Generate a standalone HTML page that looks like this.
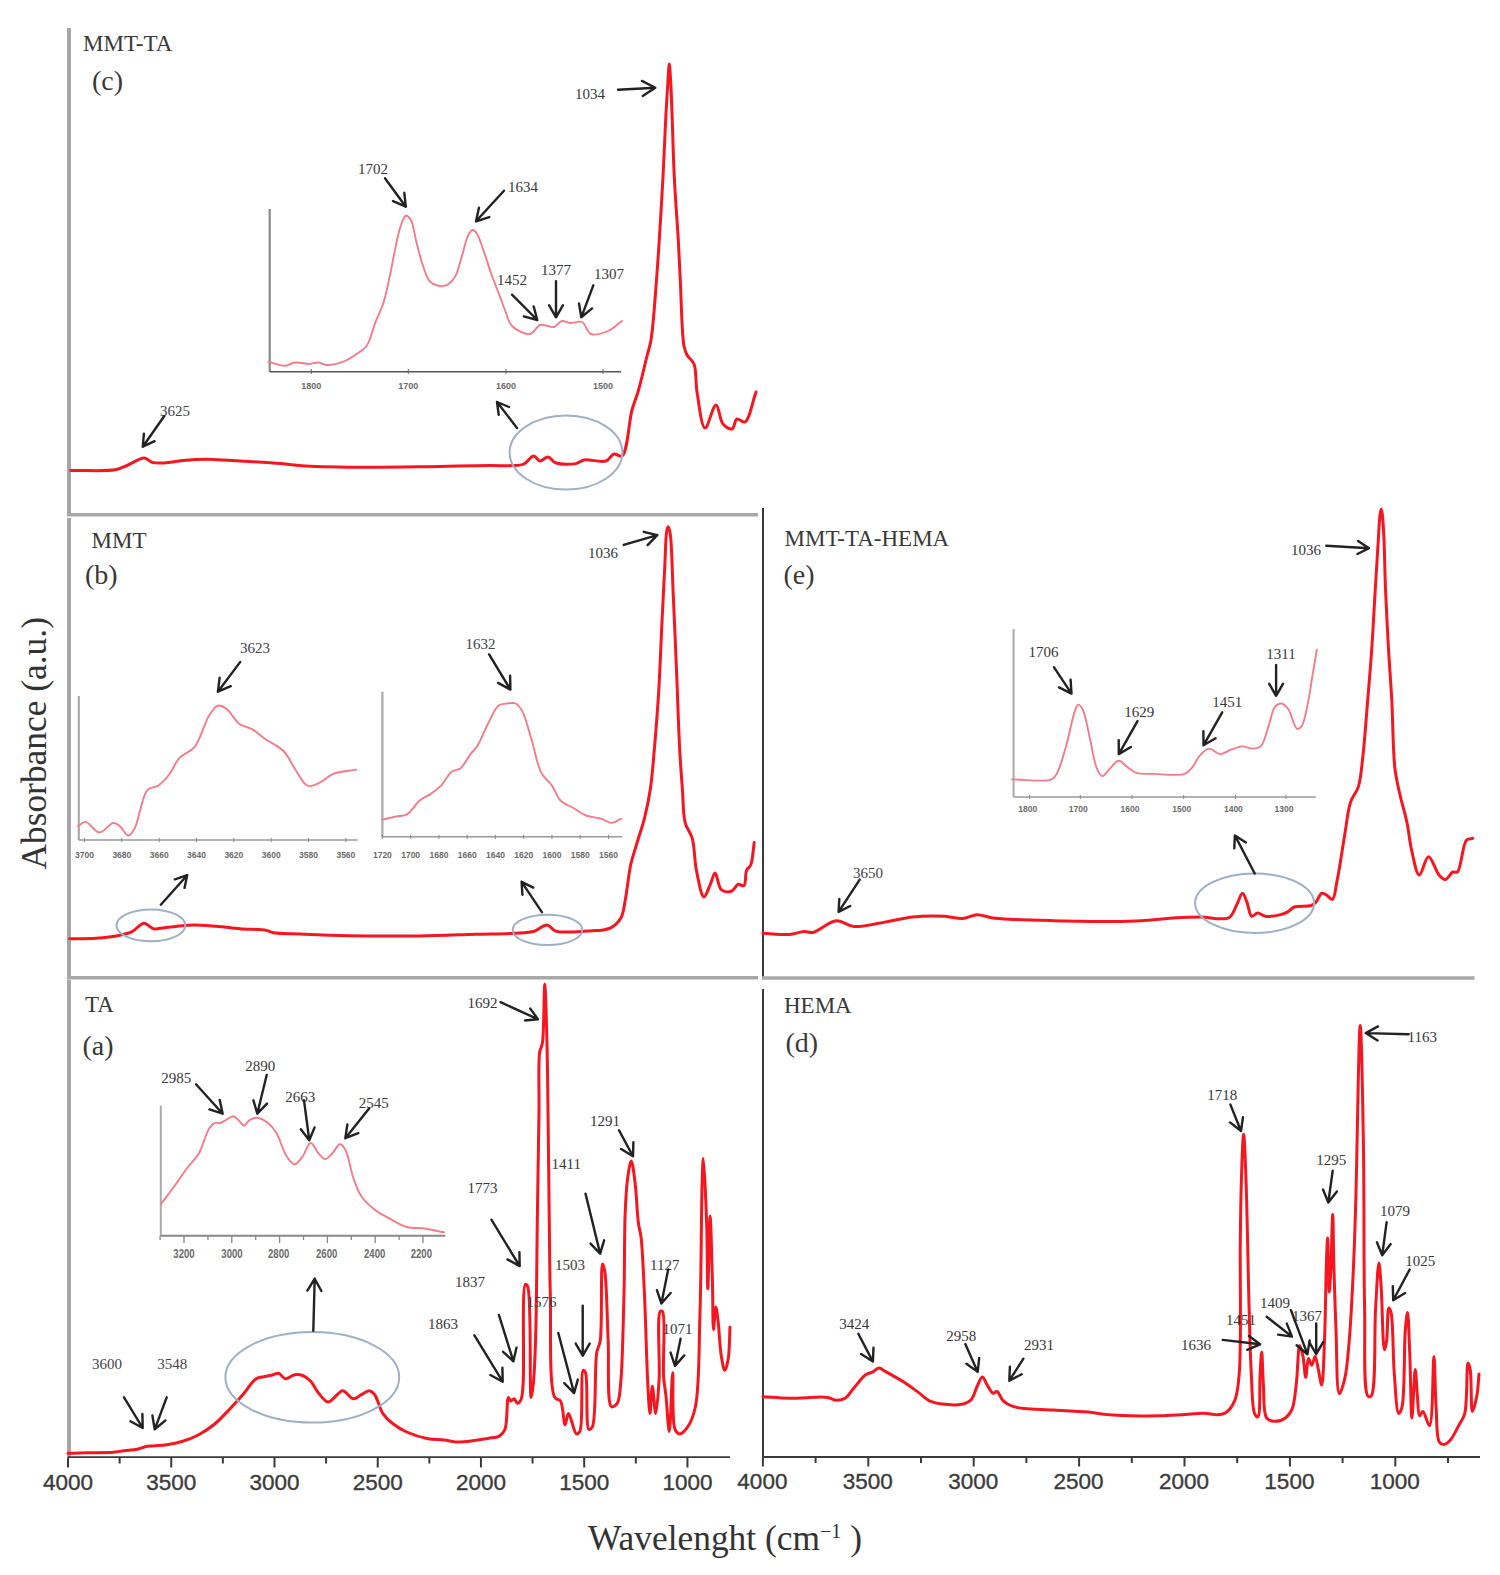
<!DOCTYPE html>
<html><head><meta charset="utf-8"><title>FTIR spectra</title>
<style>html,body{margin:0;padding:0;background:#fff;width:1500px;height:1575px;overflow:hidden}svg{display:block}</style>
</head><body>
<svg width="1500" height="1575" viewBox="0 0 1500 1575">
<rect width="1500" height="1575" fill="#fff"/>
<line x1="69" y1="28" x2="69" y2="516" stroke="#a6a6a6" stroke-width="4"/>
<line x1="67" y1="514.8" x2="758" y2="514.8" stroke="#a8a8a8" stroke-width="3.6"/>
<line x1="69" y1="518" x2="69" y2="979" stroke="#a6a6a6" stroke-width="4"/>
<line x1="67" y1="977.8" x2="758" y2="977.8" stroke="#a8a8a8" stroke-width="3.6"/>
<line x1="763" y1="508" x2="763" y2="978" stroke="#3a3a3a" stroke-width="2"/>
<line x1="762" y1="978" x2="1474.5" y2="978" stroke="#a8a8a8" stroke-width="3.6"/>
<line x1="69" y1="980" x2="69" y2="1457" stroke="#a6a6a6" stroke-width="4"/>
<line x1="763" y1="989" x2="763" y2="1457" stroke="#3a3a3a" stroke-width="2"/>
<text x="83" y="51" font-family="Liberation Serif" font-size="23" fill="#383838" text-anchor="start" >MMT-TA</text>
<text x="92" y="90" font-family="Liberation Serif" font-size="28" fill="#383838" text-anchor="start" >(c)</text>
<path d="M70.7,470.4 C85.5,470.2 105.5,471.5 115.2,469.8 C120.1,468.9 122.0,467.6 126.0,466.0 C131.4,463.9 139.7,457.7 144.4,458.0 C147.5,458.2 149.0,461.5 152.0,462.4 C155.5,463.4 159.8,463.2 164.3,463.0 C169.8,462.8 176.1,461.2 182.7,460.6 C190.3,459.9 199.0,459.3 207.2,459.3 C215.4,459.3 222.2,460.1 231.8,460.6 C245.4,461.4 267.4,462.5 280.9,463.6 C290.5,464.4 295.4,465.4 305.4,466.0 C321.2,466.9 346.3,467.2 366.7,467.3 C387.1,467.4 407.6,467.0 428.0,466.7 C448.5,466.4 473.9,465.6 489.4,465.5 C498.8,465.4 505.7,466.0 512.0,465.6 C516.6,465.3 520.4,465.6 524.0,464.0 C527.6,462.4 530.7,456.0 533.6,456.0 C535.9,456.0 537.7,460.8 540.0,461.0 C542.4,461.2 545.4,456.8 548.0,457.0 C550.7,457.2 552.5,461.8 556.0,463.0 C561.0,464.7 570.9,464.6 576.0,463.6 C579.4,462.9 580.6,460.7 584.0,460.0 C589.4,459.0 600.7,462.8 606.0,461.0 C609.7,459.7 611.1,454.7 614.0,454.0 C616.5,453.4 619.7,457.4 622.0,456.0 C627.5,452.6 628.8,421.7 632.0,410.0 C634.0,402.5 635.9,399.1 638.0,392.0 C640.9,382.1 644.6,365.6 647.0,356.0 C648.6,349.6 649.8,347.1 651.0,340.0 C653.3,326.4 654.7,302.7 656.5,280.0 C658.8,250.3 661.3,207.3 663.0,177.0 C664.3,153.1 665.0,130.8 666.0,113.0 C666.7,100.2 667.4,89.0 668.0,80.0 C668.4,73.7 668.9,64.0 669.3,64.0 C669.7,64.0 670.2,73.7 670.6,80.0 C671.2,89.0 671.5,100.2 672.0,113.0 C672.7,130.8 673.2,155.8 674.3,177.0 C675.3,198.1 677.2,221.4 678.3,240.0 C679.1,254.8 679.5,265.0 680.3,280.0 C681.3,299.3 681.7,334.2 684.0,346.0 C684.9,350.5 685.5,352.1 687.0,355.0 C688.7,358.2 692.3,359.9 694.0,364.0 C696.6,370.5 695.4,382.1 697.0,392.0 C698.9,403.3 701.4,427.6 705.0,428.0 C708.0,428.3 712.9,404.9 716.0,405.0 C718.8,405.1 719.6,420.0 723.0,424.0 C725.4,426.9 729.7,429.7 732.0,429.0 C734.4,428.3 734.6,419.9 737.0,419.0 C739.1,418.2 742.6,423.1 745.0,422.0 C749.6,419.9 752.3,402.0 756.0,392.0" fill="none" stroke="#f6161f" stroke-width="3.0" stroke-linejoin="round" stroke-linecap="round" opacity="1.0"/>
<ellipse cx="566" cy="452.6" rx="56.4" ry="37" fill="none" stroke="#9eb0c6" stroke-width="2"/>
<path d="M517.0,428.0 L497.0,402.0 M498.7,414.9 L497.0,402.0 L509.0,407.0" fill="none" stroke="#222" stroke-width="2.4" stroke-linecap="round" stroke-linejoin="round"/>
<text x="160" y="416" font-family="Liberation Serif" font-size="15" fill="#444" text-anchor="start" >3625</text>
<path d="M164.3,416.0 L142.8,446.7 M154.6,441.2 L142.8,446.7 L143.9,433.7" fill="none" stroke="#222" stroke-width="2.4" stroke-linecap="round" stroke-linejoin="round"/>
<text x="575" y="98.5" font-family="Liberation Serif" font-size="15" fill="#383838" text-anchor="start" >1034</text>
<path d="M618.0,89.7 L655.3,87.7 M641.9,80.9 L655.3,87.7 L642.7,95.9" fill="none" stroke="#222" stroke-width="2.4" stroke-linecap="round" stroke-linejoin="round"/>
<line x1="269.7" y1="209" x2="269.7" y2="372" stroke="#8a8a8a" stroke-width="2.2"/>
<line x1="269.7" y1="371.7" x2="621" y2="371.7" stroke="#555" stroke-width="1.6"/>
<line x1="311.3" y1="369" x2="311.3" y2="374" stroke="#666" stroke-width="1"/>
<text x="311.3" y="389" font-family="Liberation Sans" font-size="9" fill="#6a6a6a" text-anchor="middle" font-weight="bold">1800</text>
<line x1="408.3" y1="369" x2="408.3" y2="374" stroke="#666" stroke-width="1"/>
<text x="408.3" y="389" font-family="Liberation Sans" font-size="9" fill="#6a6a6a" text-anchor="middle" font-weight="bold">1700</text>
<line x1="506" y1="369" x2="506" y2="374" stroke="#666" stroke-width="1"/>
<text x="506" y="389" font-family="Liberation Sans" font-size="9" fill="#6a6a6a" text-anchor="middle" font-weight="bold">1600</text>
<line x1="603" y1="369" x2="603" y2="374" stroke="#666" stroke-width="1"/>
<text x="603" y="389" font-family="Liberation Sans" font-size="9" fill="#6a6a6a" text-anchor="middle" font-weight="bold">1500</text>
<path d="M268.3,361.7 C273.9,363.1 280.2,366.0 285.0,365.8 C288.8,365.7 291.3,362.9 295.0,362.5 C299.4,362.0 305.7,364.2 310.0,364.0 C313.2,363.9 315.5,362.3 318.3,362.5 C321.1,362.7 323.4,364.8 326.7,365.0 C331.3,365.2 338.4,363.5 343.3,361.7 C347.7,360.1 351.2,357.6 355.0,355.0 C359.0,352.3 363.6,350.1 366.7,345.8 C370.7,340.3 372.2,330.6 375.0,323.3 C377.7,316.4 381.1,310.1 383.3,303.3 C385.5,296.7 386.6,290.8 388.3,283.3 C390.5,273.6 392.9,259.9 395.0,250.0 C396.7,242.0 397.9,234.4 400.0,228.3 C401.7,223.5 403.6,216.3 405.8,215.8 C407.3,215.5 409.4,217.7 410.8,220.0 C413.6,224.4 414.6,235.5 416.7,243.3 C418.8,251.1 420.8,259.8 423.3,266.7 C425.3,272.3 426.9,278.5 430.0,281.7 C432.3,284.1 435.4,285.3 438.3,285.8 C441.0,286.3 444.1,286.2 446.7,285.0 C449.8,283.6 452.7,280.4 455.0,276.7 C458.1,271.7 459.5,263.5 461.7,256.7 C464.0,249.6 465.8,239.5 468.3,235.0 C469.6,232.6 471.0,230.2 472.5,230.0 C473.8,229.9 475.4,231.5 476.7,233.3 C479.1,236.6 481.1,243.8 483.3,250.0 C486.0,257.5 488.8,267.0 491.7,275.0 C494.4,282.5 497.6,290.3 500.0,296.7 C501.9,301.7 503.1,305.4 505.0,310.0 C507.1,315.1 508.1,322.0 512.0,326.0 C516.2,330.2 525.1,334.8 530.0,334.0 C534.1,333.4 536.6,326.1 540.0,325.0 C542.6,324.2 545.5,325.6 548.0,326.0 C550.1,326.3 552.0,327.5 554.0,327.0 C556.6,326.4 559.2,321.6 562.0,321.0 C564.6,320.5 567.0,322.8 570.0,323.0 C573.6,323.3 578.6,320.5 582.0,322.0 C585.8,323.7 586.9,332.4 591.0,334.0 C595.4,335.7 602.8,333.2 608.0,331.0 C613.2,328.8 617.3,324.3 622.0,321.0" fill="none" stroke="#f37c88" stroke-width="1.9" stroke-linejoin="round" stroke-linecap="round" opacity="1.0"/>
<text x="358" y="174" font-family="Liberation Serif" font-size="15" fill="#383838" text-anchor="start" >1702</text>
<path d="M385.0,178.3 L405.8,206.7 M404.3,192.8 L405.8,206.7 L393.0,201.1" fill="none" stroke="#222" stroke-width="2.4" stroke-linecap="round" stroke-linejoin="round"/>
<text x="508" y="192" font-family="Liberation Serif" font-size="15" fill="#383838" text-anchor="start" >1634</text>
<path d="M504.0,190.7 L476.0,221.3 M489.3,217.1 L476.0,221.3 L479.0,207.6" fill="none" stroke="#222" stroke-width="2.4" stroke-linecap="round" stroke-linejoin="round"/>
<text x="497" y="285" font-family="Liberation Serif" font-size="15" fill="#383838" text-anchor="start" >1452</text>
<path d="M512.0,294.7 L537.3,320.0 M533.7,306.5 L537.3,320.0 L523.8,316.4" fill="none" stroke="#222" stroke-width="2.4" stroke-linecap="round" stroke-linejoin="round"/>
<text x="541" y="274.5" font-family="Liberation Serif" font-size="15" fill="#383838" text-anchor="start" >1377</text>
<path d="M556.0,281.3 L556.0,317.3 M563.0,305.2 L556.0,317.3 L549.0,305.2" fill="none" stroke="#222" stroke-width="2.4" stroke-linecap="round" stroke-linejoin="round"/>
<text x="594" y="278.5" font-family="Liberation Serif" font-size="15" fill="#383838" text-anchor="start" >1307</text>
<path d="M593.3,285.3 L581.3,317.3 M592.1,308.4 L581.3,317.3 L579.0,303.5" fill="none" stroke="#222" stroke-width="2.4" stroke-linecap="round" stroke-linejoin="round"/>
<text x="91.5" y="547.5" font-family="Liberation Serif" font-size="23" fill="#383838" text-anchor="start" >MMT</text>
<text x="85" y="584.2" font-family="Liberation Serif" font-size="28" fill="#383838" text-anchor="start" >(b)</text>
<path d="M69.6,938.8 C78.4,938.6 87.4,938.9 96.0,938.3 C104.2,937.7 113.4,936.6 120.0,935.2 C124.7,934.2 128.1,933.5 132.0,931.6 C136.2,929.6 140.2,923.4 144.0,923.2 C147.3,923.0 149.9,927.9 153.6,928.7 C157.8,929.6 163.0,927.8 168.0,927.3 C173.4,926.8 180.0,926.0 184.8,925.6 C188.4,925.3 190.6,924.9 194.4,924.9 C200.2,924.9 208.6,925.7 216.0,926.3 C223.8,926.9 231.8,928.0 240.0,928.7 C248.6,929.4 260.4,929.2 266.4,930.4 C269.6,931.0 270.4,932.2 273.6,932.8 C279.6,933.9 289.9,933.6 300.0,934.0 C313.6,934.6 330.4,935.4 348.0,935.7 C369.6,936.1 397.5,936.2 420.0,935.9 C439.8,935.6 459.1,934.7 476.0,934.2 C489.9,933.8 503.3,933.9 514.0,933.2 C521.8,932.7 528.5,932.9 534.3,931.2 C539.2,929.8 543.2,924.6 547.0,924.9 C550.3,925.2 552.0,929.9 555.8,931.2 C561.2,933.0 570.7,931.8 577.3,931.7 C582.8,931.6 588.4,930.9 592.6,930.7 C595.5,930.5 597.3,930.8 600.0,930.4 C603.4,929.9 607.8,929.5 611.2,927.6 C614.9,925.5 618.7,921.9 621.0,917.8 C623.6,913.2 623.8,907.7 625.1,901.0 C627.0,891.2 628.5,874.9 630.7,864.7 C632.4,857.1 634.2,852.3 636.3,845.2 C638.8,836.7 642.4,826.7 644.7,817.3 C647.0,808.0 648.8,799.6 650.3,789.3 C652.2,776.8 653.2,762.4 654.5,747.4 C656.0,730.1 657.5,711.3 658.7,691.6 C660.0,669.6 660.9,643.7 662.0,621.7 C663.0,602.1 663.9,582.5 664.8,565.9 C665.5,552.5 665.6,534.8 667.0,529.6 C667.4,528.1 668.0,526.7 668.4,526.8 C669.1,526.9 669.8,531.0 670.4,535.1 C671.9,545.8 672.2,572.5 673.2,593.8 C674.4,619.3 675.7,650.9 676.8,677.6 C677.8,701.9 678.5,727.1 679.6,747.4 C680.4,763.1 681.4,776.1 682.4,789.3 C683.3,801.1 682.9,813.9 685.2,822.8 C686.8,829.1 690.4,832.0 692.2,838.2 C694.7,846.8 694.3,860.2 696.4,870.3 C698.3,879.7 701.1,896.6 703.9,896.9 C705.9,897.1 708.4,888.4 710.3,884.3 C712.1,880.5 713.4,873.1 715.1,873.1 C717.1,873.1 718.1,887.2 721.5,889.9 C724.0,891.9 728.5,892.2 731.3,891.3 C734.1,890.4 735.9,885.0 738.3,884.3 C740.1,883.8 742.5,886.6 743.9,885.7 C746.2,884.2 745.0,874.0 746.6,870.3 C747.7,867.8 749.7,867.4 750.8,864.7 C752.8,859.9 753.1,849.8 754.2,842.4" fill="none" stroke="#f6161f" stroke-width="3.0" stroke-linejoin="round" stroke-linecap="round" opacity="1.0"/>
<ellipse cx="150.9" cy="925.4" rx="34.4" ry="15.9" fill="none" stroke="#9eb0c6" stroke-width="2"/>
<path d="M160.8,904.7 L187.2,875.2 M174.8,879.3 L187.2,875.2 L184.5,887.9" fill="none" stroke="#222" stroke-width="2.4" stroke-linecap="round" stroke-linejoin="round"/>
<ellipse cx="547.5" cy="929.9" rx="34.8" ry="15.2" fill="none" stroke="#9eb0c6" stroke-width="2"/>
<path d="M541.9,912.2 L521.6,881.8 M522.4,894.8 L521.6,881.8 L533.3,887.6" fill="none" stroke="#222" stroke-width="2.4" stroke-linecap="round" stroke-linejoin="round"/>
<text x="588" y="557.5" font-family="Liberation Serif" font-size="15" fill="#383838" text-anchor="start" >1036</text>
<path d="M623.7,544.9 L657.3,535.1 M643.7,531.8 L657.3,535.1 L647.6,545.2" fill="none" stroke="#222" stroke-width="2.4" stroke-linecap="round" stroke-linejoin="round"/>
<line x1="78.8" y1="696" x2="78.8" y2="840" stroke="#aaa" stroke-width="2.2"/>
<line x1="78.8" y1="840" x2="357.6" y2="840" stroke="#999" stroke-width="1.4"/>
<line x1="84.5" y1="838" x2="84.5" y2="842" stroke="#888" stroke-width="1"/>
<text x="84.5" y="858" font-family="Liberation Sans" font-size="8.5" fill="#6a6a6a" text-anchor="middle" font-weight="bold">3700</text>
<line x1="121.84" y1="838" x2="121.84" y2="842" stroke="#888" stroke-width="1"/>
<text x="121.84" y="858" font-family="Liberation Sans" font-size="8.5" fill="#6a6a6a" text-anchor="middle" font-weight="bold">3680</text>
<line x1="159.18" y1="838" x2="159.18" y2="842" stroke="#888" stroke-width="1"/>
<text x="159.18" y="858" font-family="Liberation Sans" font-size="8.5" fill="#6a6a6a" text-anchor="middle" font-weight="bold">3660</text>
<line x1="196.52" y1="838" x2="196.52" y2="842" stroke="#888" stroke-width="1"/>
<text x="196.52" y="858" font-family="Liberation Sans" font-size="8.5" fill="#6a6a6a" text-anchor="middle" font-weight="bold">3640</text>
<line x1="233.86" y1="838" x2="233.86" y2="842" stroke="#888" stroke-width="1"/>
<text x="233.86" y="858" font-family="Liberation Sans" font-size="8.5" fill="#6a6a6a" text-anchor="middle" font-weight="bold">3620</text>
<line x1="271.20000000000005" y1="838" x2="271.20000000000005" y2="842" stroke="#888" stroke-width="1"/>
<text x="271.20000000000005" y="858" font-family="Liberation Sans" font-size="8.5" fill="#6a6a6a" text-anchor="middle" font-weight="bold">3600</text>
<line x1="308.54" y1="838" x2="308.54" y2="842" stroke="#888" stroke-width="1"/>
<text x="308.54" y="858" font-family="Liberation Sans" font-size="8.5" fill="#6a6a6a" text-anchor="middle" font-weight="bold">3580</text>
<line x1="345.88" y1="838" x2="345.88" y2="842" stroke="#888" stroke-width="1"/>
<text x="345.88" y="858" font-family="Liberation Sans" font-size="8.5" fill="#6a6a6a" text-anchor="middle" font-weight="bold">3560</text>
<path d="M78.1,826.1 C80.6,824.7 82.8,821.7 85.6,821.9 C89.6,822.2 94.8,832.4 99.5,832.5 C104.1,832.6 109.5,823.3 113.3,823.0 C115.8,822.8 117.6,824.5 119.7,826.1 C122.6,828.3 125.7,835.7 128.3,835.7 C130.6,835.7 132.6,832.0 134.7,828.3 C139.0,820.7 141.7,796.1 147.5,789.9 C150.6,786.6 154.8,787.8 158.1,785.6 C161.9,783.1 165.5,779.2 168.8,775.0 C172.7,770.2 175.1,762.6 179.5,757.9 C183.7,753.4 190.0,752.5 194.4,747.2 C200.5,739.9 204.5,722.5 209.3,715.2 C212.2,710.8 214.8,706.4 217.9,705.6 C220.5,705.0 223.5,706.8 226.4,708.8 C230.6,711.7 234.5,720.3 239.2,723.7 C243.2,726.6 247.9,726.7 252.0,729.1 C256.4,731.6 260.1,735.3 264.8,738.7 C270.5,742.7 278.9,746.3 284.0,751.5 C288.7,756.4 290.9,762.9 294.7,768.5 C298.7,774.3 302.6,783.9 307.5,785.6 C311.4,787.0 316.2,784.2 320.3,782.4 C324.7,780.4 327.9,776.0 333.1,773.9 C339.5,771.3 348.7,771.0 356.5,769.6" fill="none" stroke="#f37c88" stroke-width="1.9" stroke-linejoin="round" stroke-linecap="round" opacity="1.0"/>
<text x="240" y="653" font-family="Liberation Serif" font-size="15" fill="#444" text-anchor="start" >3623</text>
<path d="M240.3,661.9 L217.9,691.7 M230.8,686.2 L217.9,691.7 L219.6,677.8" fill="none" stroke="#222" stroke-width="2.4" stroke-linecap="round" stroke-linejoin="round"/>
<line x1="382.4" y1="691.7" x2="382.4" y2="837" stroke="#aaa" stroke-width="2.2"/>
<line x1="382.4" y1="836.8" x2="622.4" y2="836.8" stroke="#999" stroke-width="1.4"/>
<line x1="382.4" y1="835" x2="382.4" y2="839" stroke="#888" stroke-width="1"/>
<text x="382.4" y="858" font-family="Liberation Sans" font-size="8.5" fill="#6a6a6a" text-anchor="middle" font-weight="bold">1720</text>
<line x1="410.65999999999997" y1="835" x2="410.65999999999997" y2="839" stroke="#888" stroke-width="1"/>
<text x="410.65999999999997" y="858" font-family="Liberation Sans" font-size="8.5" fill="#6a6a6a" text-anchor="middle" font-weight="bold">1700</text>
<line x1="438.91999999999996" y1="835" x2="438.91999999999996" y2="839" stroke="#888" stroke-width="1"/>
<text x="438.91999999999996" y="858" font-family="Liberation Sans" font-size="8.5" fill="#6a6a6a" text-anchor="middle" font-weight="bold">1680</text>
<line x1="467.17999999999995" y1="835" x2="467.17999999999995" y2="839" stroke="#888" stroke-width="1"/>
<text x="467.17999999999995" y="858" font-family="Liberation Sans" font-size="8.5" fill="#6a6a6a" text-anchor="middle" font-weight="bold">1660</text>
<line x1="495.44" y1="835" x2="495.44" y2="839" stroke="#888" stroke-width="1"/>
<text x="495.44" y="858" font-family="Liberation Sans" font-size="8.5" fill="#6a6a6a" text-anchor="middle" font-weight="bold">1640</text>
<line x1="523.7" y1="835" x2="523.7" y2="839" stroke="#888" stroke-width="1"/>
<text x="523.7" y="858" font-family="Liberation Sans" font-size="8.5" fill="#6a6a6a" text-anchor="middle" font-weight="bold">1620</text>
<line x1="551.96" y1="835" x2="551.96" y2="839" stroke="#888" stroke-width="1"/>
<text x="551.96" y="858" font-family="Liberation Sans" font-size="8.5" fill="#6a6a6a" text-anchor="middle" font-weight="bold">1600</text>
<line x1="580.22" y1="835" x2="580.22" y2="839" stroke="#888" stroke-width="1"/>
<text x="580.22" y="858" font-family="Liberation Sans" font-size="8.5" fill="#6a6a6a" text-anchor="middle" font-weight="bold">1580</text>
<line x1="608.48" y1="835" x2="608.48" y2="839" stroke="#888" stroke-width="1"/>
<text x="608.48" y="858" font-family="Liberation Sans" font-size="8.5" fill="#6a6a6a" text-anchor="middle" font-weight="bold">1560</text>
<path d="M382.4,819.7 C387.0,818.6 392.0,817.4 396.3,816.5 C400.1,815.7 403.6,816.3 407.0,814.4 C411.5,811.9 415.4,804.0 419.7,800.5 C423.2,797.6 426.9,796.5 430.4,794.1 C434.1,791.6 437.7,789.0 441.1,785.6 C444.9,781.7 447.9,774.5 451.7,771.7 C454.4,769.7 457.6,770.6 460.3,768.5 C464.1,765.6 467.7,757.7 470.9,753.6 C473.2,750.6 475.1,749.5 477.3,746.1 C480.8,740.8 484.3,730.7 488.0,723.7 C491.4,717.3 494.6,708.6 498.7,705.6 C501.3,703.6 504.3,703.8 507.2,703.5 C510.0,703.2 513.3,702.4 515.7,703.5 C518.3,704.7 520.1,707.4 522.1,710.9 C525.4,716.7 527.8,727.2 530.7,736.5 C534.2,747.5 536.7,764.1 541.3,772.8 C544.4,778.6 548.8,781.0 552.0,785.6 C555.2,790.2 556.8,796.7 560.5,800.5 C564.0,804.0 569.0,805.5 573.3,808.0 C577.6,810.5 581.5,813.7 586.1,815.5 C590.8,817.3 596.6,817.3 601.1,818.7 C605.0,819.9 608.3,823.0 611.7,822.9 C615.0,822.8 618.1,820.1 621.3,818.7" fill="none" stroke="#f37c88" stroke-width="1.9" stroke-linejoin="round" stroke-linecap="round" opacity="1.0"/>
<text x="465.6" y="649" font-family="Liberation Serif" font-size="15" fill="#444" text-anchor="start" >1632</text>
<path d="M489.1,654.4 L510.4,689.6 M510.1,675.6 L510.4,689.6 L498.1,682.9" fill="none" stroke="#222" stroke-width="2.4" stroke-linecap="round" stroke-linejoin="round"/>
<text x="784.5" y="545.5" font-family="Liberation Serif" font-size="23" fill="#383838" text-anchor="start" >MMT-TA-HEMA</text>
<text x="783.5" y="583.8" font-family="Liberation Serif" font-size="28" fill="#383838" text-anchor="start" >(e)</text>
<path d="M762.9,933.3 C771.7,933.7 781.8,935.1 789.3,934.5 C794.9,934.1 799.7,931.7 804.0,931.5 C807.3,931.3 809.3,933.0 812.8,932.4 C818.9,931.3 828.9,921.2 836.3,920.7 C842.5,920.3 847.5,925.9 853.9,926.5 C861.1,927.2 870.4,924.7 877.3,923.6 C882.8,922.7 886.7,921.7 892.0,920.7 C898.3,919.5 904.9,917.7 912.5,916.9 C922.0,915.9 935.7,915.8 944.8,916.3 C951.6,916.7 956.8,918.9 962.4,918.6 C967.6,918.3 972.2,914.9 977.1,914.8 C982.0,914.7 986.6,917.0 991.7,917.7 C997.3,918.5 1002.1,918.8 1009.3,919.2 C1020.7,919.9 1037.6,920.3 1053.3,920.7 C1071.5,921.1 1095.8,921.6 1112.0,921.5 C1123.4,921.4 1131.1,921.3 1141.3,920.7 C1152.5,920.1 1165.9,918.3 1176.5,917.7 C1185.1,917.2 1191.8,917.0 1200.0,917.0 C1209.1,917.0 1222.7,921.0 1228.8,917.7 C1233.1,915.4 1234.1,909.6 1236.4,905.5 C1238.6,901.5 1240.6,893.3 1242.5,893.3 C1244.1,893.3 1245.6,899.0 1247.0,902.4 C1248.7,906.5 1249.2,915.2 1251.6,916.2 C1253.2,916.9 1255.5,913.2 1257.7,913.1 C1260.1,913.0 1262.3,915.8 1265.4,916.2 C1269.6,916.8 1276.5,915.6 1280.6,914.6 C1283.6,913.9 1285.9,912.9 1288.2,911.6 C1290.4,910.3 1291.6,908.1 1294.3,907.0 C1298.4,905.4 1307.4,906.8 1311.1,905.5 C1313.2,904.7 1314.2,903.9 1315.7,902.4 C1317.8,900.3 1319.6,894.0 1321.8,893.3 C1323.2,892.8 1324.8,894.0 1326.3,894.8 C1328.3,895.8 1330.8,900.0 1332.4,899.4 C1334.9,898.5 1335.4,888.6 1337.0,881.1 C1339.5,869.3 1342.2,849.5 1344.6,835.4 C1346.7,823.3 1347.7,810.6 1350.7,801.8 C1352.8,795.6 1356.5,792.7 1358.4,786.6 C1361.0,778.4 1361.5,767.8 1362.9,756.1 C1364.7,740.3 1366.2,717.9 1367.7,700.0 C1369.1,683.5 1370.3,669.4 1371.5,652.4 C1372.9,632.8 1374.1,608.7 1375.3,588.9 C1376.4,571.5 1377.4,553.6 1378.3,540.0 C1378.9,530.3 1379.3,520.5 1380.0,515.0 C1380.4,512.3 1380.8,509.0 1381.2,509.0 C1381.6,509.0 1382.0,512.3 1382.4,515.0 C1383.1,520.5 1383.5,530.3 1384.0,540.0 C1384.6,553.6 1384.8,571.5 1385.5,588.9 C1386.3,608.7 1387.6,632.8 1388.7,652.4 C1389.7,669.4 1390.8,682.7 1391.8,700.0 C1392.9,720.7 1392.9,751.3 1394.9,768.3 C1396.1,778.5 1397.6,784.1 1399.5,792.7 C1401.6,802.3 1405.0,813.3 1407.1,823.2 C1409.0,832.5 1409.6,841.8 1411.7,850.6 C1413.7,859.0 1416.3,874.8 1419.3,875.0 C1422.0,875.2 1425.2,856.8 1428.5,856.7 C1431.8,856.6 1435.5,871.1 1439.0,875.0 C1441.1,877.4 1443.2,879.8 1445.3,879.6 C1447.8,879.4 1450.5,873.0 1452.9,872.0 C1454.5,871.4 1456.0,873.1 1457.4,872.0 C1461.2,869.1 1462.4,844.1 1466.6,840.0 C1468.4,838.2 1470.7,838.9 1472.7,838.4" fill="none" stroke="#f6161f" stroke-width="3.0" stroke-linejoin="round" stroke-linecap="round" opacity="1.0"/>
<ellipse cx="1254.6" cy="903.2" rx="59.5" ry="29.7" fill="none" stroke="#9eb0c6" stroke-width="2"/>
<path d="M1254.7,873.5 L1234.9,835.4 M1234.3,848.4 L1234.9,835.4 L1245.9,842.4" fill="none" stroke="#222" stroke-width="2.4" stroke-linecap="round" stroke-linejoin="round"/>
<text x="1291" y="555" font-family="Liberation Serif" font-size="15" fill="#383838" text-anchor="start" >1036</text>
<path d="M1326.3,545.7 L1369.0,548.2 M1358.1,541.1 L1369.0,548.2 L1357.4,554.0" fill="none" stroke="#222" stroke-width="2.4" stroke-linecap="round" stroke-linejoin="round"/>
<text x="853" y="878" font-family="Liberation Serif" font-size="15" fill="#444" text-anchor="start" >3650</text>
<path d="M859.7,879.6 L838.6,911.9 M850.2,906.0 L838.6,911.9 L839.3,898.9" fill="none" stroke="#222" stroke-width="2.4" stroke-linecap="round" stroke-linejoin="round"/>
<line x1="1013.6" y1="629" x2="1013.6" y2="797" stroke="#aaa" stroke-width="2"/>
<line x1="1013.6" y1="797" x2="1315.7" y2="797" stroke="#999" stroke-width="1.4"/>
<line x1="1029.7" y1="795" x2="1029.7" y2="799" stroke="#888" stroke-width="1"/>
<text x="1027.7" y="812" font-family="Liberation Sans" font-size="8.5" fill="#6a6a6a" text-anchor="middle" font-weight="bold">1800</text>
<line x1="1080.3" y1="795" x2="1080.3" y2="799" stroke="#888" stroke-width="1"/>
<text x="1078.3" y="812" font-family="Liberation Sans" font-size="8.5" fill="#6a6a6a" text-anchor="middle" font-weight="bold">1700</text>
<line x1="1132" y1="795" x2="1132" y2="799" stroke="#888" stroke-width="1"/>
<text x="1130" y="812" font-family="Liberation Sans" font-size="8.5" fill="#6a6a6a" text-anchor="middle" font-weight="bold">1600</text>
<line x1="1183.7" y1="795" x2="1183.7" y2="799" stroke="#888" stroke-width="1"/>
<text x="1181.7" y="812" font-family="Liberation Sans" font-size="8.5" fill="#6a6a6a" text-anchor="middle" font-weight="bold">1500</text>
<line x1="1235.4" y1="795" x2="1235.4" y2="799" stroke="#888" stroke-width="1"/>
<text x="1233.4" y="812" font-family="Liberation Sans" font-size="8.5" fill="#6a6a6a" text-anchor="middle" font-weight="bold">1400</text>
<line x1="1286" y1="795" x2="1286" y2="799" stroke="#888" stroke-width="1"/>
<text x="1284" y="812" font-family="Liberation Sans" font-size="8.5" fill="#6a6a6a" text-anchor="middle" font-weight="bold">1300</text>
<path d="M1012.1,779.4 C1025.3,779.4 1044.8,782.6 1051.7,779.4 C1054.9,777.9 1055.4,776.0 1057.2,772.8 C1060.4,767.1 1063.2,755.9 1066.0,746.4 C1069.2,735.6 1072.2,718.2 1074.8,711.2 C1076.0,708.0 1076.7,704.8 1078.1,704.6 C1079.3,704.4 1081.1,706.6 1082.5,709.0 C1085.6,714.4 1087.8,729.7 1090.2,739.8 C1092.5,749.5 1093.9,762.1 1096.8,768.4 C1098.4,772.0 1100.2,775.9 1102.3,776.1 C1104.6,776.3 1107.3,770.9 1110.0,768.4 C1112.8,765.8 1115.8,760.8 1118.8,760.7 C1121.7,760.6 1124.6,765.3 1127.6,767.3 C1130.5,769.3 1132.8,771.6 1136.4,772.8 C1141.1,774.3 1147.3,773.7 1154.0,773.9 C1162.8,774.2 1178.5,776.2 1184.8,773.9 C1188.1,772.7 1189.2,770.8 1191.4,768.4 C1194.4,765.1 1196.9,758.6 1200.2,755.2 C1202.9,752.3 1205.8,748.9 1209.0,748.6 C1212.4,748.3 1216.3,753.9 1220.0,754.1 C1223.6,754.3 1227.3,751.0 1231.0,749.7 C1234.6,748.4 1238.3,746.6 1242.0,746.4 C1245.6,746.2 1249.7,748.7 1253.0,748.6 C1255.8,748.5 1258.5,748.4 1260.7,746.4 C1264.3,743.1 1266.0,733.2 1268.4,726.6 C1270.8,720.0 1271.9,710.4 1275.0,706.8 C1276.9,704.6 1279.5,703.3 1281.6,703.5 C1283.9,703.8 1286.1,706.3 1288.2,709.0 C1291.5,713.3 1294.0,727.7 1297.0,728.8 C1298.4,729.3 1300.1,728.2 1301.4,726.6 C1304.4,723.0 1306.2,710.7 1308.0,702.4 C1309.9,693.8 1310.9,684.8 1312.4,676.0 C1313.9,667.2 1315.3,658.4 1316.8,649.6" fill="none" stroke="#f37c88" stroke-width="1.9" stroke-linejoin="round" stroke-linecap="round" opacity="1.0"/>
<text x="1028.6" y="657" font-family="Liberation Serif" font-size="15" fill="#383838" text-anchor="start" >1706</text>
<path d="M1053.9,667.2 L1071.5,693.6 M1070.6,679.6 L1071.5,693.6 L1059.0,687.4" fill="none" stroke="#222" stroke-width="2.4" stroke-linecap="round" stroke-linejoin="round"/>
<text x="1124.3" y="716.5" font-family="Liberation Serif" font-size="15" fill="#383838" text-anchor="start" >1629</text>
<path d="M1137.5,721.1 L1118.8,754.1 M1130.9,747.0 L1118.8,754.1 L1118.7,740.1" fill="none" stroke="#222" stroke-width="2.4" stroke-linecap="round" stroke-linejoin="round"/>
<text x="1212.3" y="706.5" font-family="Liberation Serif" font-size="15" fill="#383838" text-anchor="start" >1451</text>
<path d="M1222.2,712.3 L1203.5,745.3 M1215.6,738.2 L1203.5,745.3 L1203.4,731.3" fill="none" stroke="#222" stroke-width="2.4" stroke-linecap="round" stroke-linejoin="round"/>
<text x="1266.2" y="659.3" font-family="Liberation Serif" font-size="15" fill="#383838" text-anchor="start" >1311</text>
<path d="M1276.1,665.0 L1276.1,695.8 M1283.1,683.7 L1276.1,695.8 L1269.1,683.7" fill="none" stroke="#222" stroke-width="2.4" stroke-linecap="round" stroke-linejoin="round"/>
<text x="85" y="1011.5" font-family="Liberation Serif" font-size="23" fill="#383838" text-anchor="start" >TA</text>
<text x="82.5" y="1054.5" font-family="Liberation Serif" font-size="28" fill="#383838" text-anchor="start" >(a)</text>
<line x1="68" y1="1457.2" x2="730" y2="1457.2" stroke="#3a3a3a" stroke-width="1.8"/>
<line x1="68.0" y1="1457.2" x2="68.0" y2="1467.5" stroke="#3a3a3a" stroke-width="2"/>
<line x1="119.62" y1="1457.2" x2="119.62" y2="1463.5" stroke="#3a3a3a" stroke-width="2"/>
<line x1="171.24" y1="1457.2" x2="171.24" y2="1467.5" stroke="#3a3a3a" stroke-width="2"/>
<line x1="222.85999999999999" y1="1457.2" x2="222.85999999999999" y2="1463.5" stroke="#3a3a3a" stroke-width="2"/>
<line x1="274.48" y1="1457.2" x2="274.48" y2="1467.5" stroke="#3a3a3a" stroke-width="2"/>
<line x1="326.09999999999997" y1="1457.2" x2="326.09999999999997" y2="1463.5" stroke="#3a3a3a" stroke-width="2"/>
<line x1="377.71999999999997" y1="1457.2" x2="377.71999999999997" y2="1467.5" stroke="#3a3a3a" stroke-width="2"/>
<line x1="429.34" y1="1457.2" x2="429.34" y2="1463.5" stroke="#3a3a3a" stroke-width="2"/>
<line x1="480.96" y1="1457.2" x2="480.96" y2="1467.5" stroke="#3a3a3a" stroke-width="2"/>
<line x1="532.5799999999999" y1="1457.2" x2="532.5799999999999" y2="1463.5" stroke="#3a3a3a" stroke-width="2"/>
<line x1="584.1999999999999" y1="1457.2" x2="584.1999999999999" y2="1467.5" stroke="#3a3a3a" stroke-width="2"/>
<line x1="635.8199999999999" y1="1457.2" x2="635.8199999999999" y2="1463.5" stroke="#3a3a3a" stroke-width="2"/>
<line x1="687.4399999999999" y1="1457.2" x2="687.4399999999999" y2="1467.5" stroke="#3a3a3a" stroke-width="2"/>
<text x="68" y="1490.2" font-family="Liberation Sans" font-size="22.5" fill="#3a3a3a" text-anchor="middle" stroke="#3a3a3a" stroke-width="0.35">4000</text>
<text x="171.2" y="1490.2" font-family="Liberation Sans" font-size="22.5" fill="#3a3a3a" text-anchor="middle" stroke="#3a3a3a" stroke-width="0.35">3500</text>
<text x="274.5" y="1490.2" font-family="Liberation Sans" font-size="22.5" fill="#3a3a3a" text-anchor="middle" stroke="#3a3a3a" stroke-width="0.35">3000</text>
<text x="377.7" y="1490.2" font-family="Liberation Sans" font-size="22.5" fill="#3a3a3a" text-anchor="middle" stroke="#3a3a3a" stroke-width="0.35">2500</text>
<text x="481" y="1490.2" font-family="Liberation Sans" font-size="22.5" fill="#3a3a3a" text-anchor="middle" stroke="#3a3a3a" stroke-width="0.35">2000</text>
<text x="584.2" y="1490.2" font-family="Liberation Sans" font-size="22.5" fill="#3a3a3a" text-anchor="middle" stroke="#3a3a3a" stroke-width="0.35">1500</text>
<text x="687.5" y="1490.2" font-family="Liberation Sans" font-size="22.5" fill="#3a3a3a" text-anchor="middle" stroke="#3a3a3a" stroke-width="0.35">1000</text>
<path d="M68.0,1453.3 C74.2,1453.1 79.9,1453.0 86.7,1452.8 C94.8,1452.6 106.4,1452.9 113.3,1452.3 C117.7,1451.9 120.2,1451.2 124.0,1450.7 C128.2,1450.2 133.5,1450.1 137.3,1449.3 C140.3,1448.7 142.6,1447.3 145.3,1446.7 C147.9,1446.1 150.3,1446.2 153.3,1445.9 C157.2,1445.5 162.1,1445.5 166.7,1444.8 C171.8,1444.0 177.4,1442.9 182.7,1441.3 C188.1,1439.6 193.5,1437.5 198.7,1434.7 C204.2,1431.8 209.6,1428.2 214.7,1424.0 C220.3,1419.4 225.7,1413.3 230.7,1408.0 C235.4,1403.1 240.2,1397.9 244.0,1393.3 C247.1,1389.6 249.5,1385.4 252.0,1382.7 C253.8,1380.7 255.2,1379.1 257.3,1378.1 C259.6,1377.0 262.6,1377.1 265.3,1376.5 C268.0,1375.9 270.9,1375.3 273.3,1374.7 C275.3,1374.2 276.9,1372.9 278.7,1373.3 C280.9,1373.8 282.8,1378.3 285.3,1378.7 C288.1,1379.1 291.6,1375.2 294.7,1374.7 C297.4,1374.3 300.2,1374.5 302.7,1375.5 C305.5,1376.6 308.2,1378.7 310.7,1381.3 C313.7,1384.4 315.7,1389.8 318.7,1393.3 C321.5,1396.6 325.1,1401.9 328.0,1402.1 C330.3,1402.3 332.4,1399.1 334.7,1397.3 C337.3,1395.3 339.8,1390.8 342.7,1390.7 C346.0,1390.6 349.9,1398.4 353.3,1398.7 C356.1,1399.0 358.6,1396.0 361.3,1394.7 C364.0,1393.4 366.9,1390.5 369.3,1390.7 C371.3,1390.9 373.0,1392.5 374.7,1394.7 C377.7,1398.4 379.3,1408.2 382.7,1413.3 C385.7,1417.7 389.3,1420.9 393.3,1424.0 C397.3,1427.2 401.6,1429.7 406.7,1432.0 C412.8,1434.8 421.3,1437.4 428.0,1438.7 C433.6,1439.8 438.7,1439.4 444.0,1440.0 C449.3,1440.6 453.9,1442.1 460.0,1442.1 C468.0,1442.1 480.8,1439.6 488.0,1438.4 C492.6,1437.6 496.4,1437.8 499.3,1436.1 C501.9,1434.6 503.5,1432.7 505.0,1429.3 C507.7,1422.8 506.5,1398.1 508.4,1397.6 C509.1,1397.4 509.8,1400.8 510.7,1401.0 C511.6,1401.2 513.0,1398.5 514.1,1398.7 C515.3,1398.9 516.3,1403.2 517.5,1403.3 C518.6,1403.4 520.0,1401.7 520.9,1399.9 C522.5,1396.7 522.5,1391.6 523.1,1384.0 C524.6,1365.1 521.6,1285.9 525.4,1284.3 C526.1,1284.0 527.0,1285.0 527.7,1286.5 C531.7,1295.6 529.3,1397.5 531.1,1397.6 C531.7,1397.6 532.7,1389.9 533.3,1384.0 C534.4,1373.3 535.0,1357.5 535.6,1338.7 C536.6,1307.6 536.8,1254.4 537.4,1215.0 C537.9,1178.8 538.6,1140.8 539.0,1111.0 C539.3,1088.6 538.0,1063.1 539.7,1052.1 C540.4,1047.7 541.7,1047.4 542.4,1043.0 C544.2,1032.0 543.9,984.1 544.7,984.1 C545.4,984.1 546.4,1020.8 546.9,1040.7 C547.5,1062.9 547.7,1085.3 548.0,1111.0 C548.4,1142.3 548.8,1182.8 549.2,1215.0 C549.6,1242.9 549.5,1265.3 550.3,1293.3 C551.2,1325.6 548.6,1387.0 554.9,1397.6 C556.5,1400.3 559.0,1398.8 560.5,1401.0 C563.4,1405.1 563.5,1424.7 565.1,1424.8 C566.2,1424.9 567.0,1413.6 568.5,1413.5 C570.5,1413.4 573.8,1433.1 576.4,1433.9 C577.5,1434.3 578.8,1433.3 579.8,1431.6 C583.5,1425.1 580.3,1371.5 583.2,1370.4 C583.9,1370.1 584.8,1371.2 585.5,1372.7 C588.3,1378.9 585.3,1427.5 588.9,1429.3 C589.9,1429.8 591.3,1428.8 592.3,1427.1 C596.5,1419.8 594.3,1366.2 596.8,1352.3 C597.8,1346.8 599.3,1346.5 600.2,1340.9 C602.5,1326.7 600.5,1264.2 602.5,1263.9 C603.1,1263.8 604.1,1267.2 604.7,1270.7 C606.7,1281.5 607.0,1316.0 608.1,1338.7 C609.2,1361.4 606.6,1404.1 611.5,1406.7 C613.0,1407.5 615.8,1405.4 617.2,1403.3 C619.7,1399.7 619.7,1392.8 620.6,1384.0 C622.6,1365.0 623.2,1322.4 624.0,1293.3 C624.7,1266.2 624.3,1235.9 625.1,1215.0 C625.7,1201.0 626.1,1190.0 627.4,1180.1 C628.4,1172.7 630.0,1160.9 631.2,1160.9 C632.5,1160.9 633.9,1173.6 634.9,1181.3 C636.2,1191.1 636.9,1207.0 637.6,1215.0 C638.0,1219.4 638.2,1221.8 638.7,1225.3 C639.3,1229.0 640.3,1231.4 641.0,1236.7 C642.5,1248.4 643.4,1272.2 644.4,1293.3 C645.7,1320.0 646.6,1362.0 647.8,1384.0 C648.5,1396.5 649.2,1413.5 650.0,1413.5 C650.7,1413.5 651.4,1386.3 652.3,1386.3 C653.3,1386.3 654.6,1413.5 655.7,1413.5 C656.9,1413.5 658.3,1392.8 659.1,1379.5 C660.2,1360.7 656.6,1315.0 660.2,1311.5 C660.9,1310.9 661.8,1310.9 662.5,1311.5 C666.0,1315.0 662.5,1362.1 663.6,1377.2 C664.2,1385.1 665.1,1388.2 665.9,1395.3 C667.0,1405.3 668.3,1431.6 669.3,1431.6 C670.6,1431.6 671.7,1372.7 672.7,1372.7 C673.6,1372.7 671.5,1421.1 675.0,1429.3 C676.2,1432.0 677.7,1433.8 679.5,1433.9 C681.7,1434.0 685.2,1430.4 687.5,1427.1 C690.9,1422.4 693.4,1416.1 695.4,1406.7 C699.5,1387.5 698.8,1349.3 699.9,1316.0 C701.3,1275.3 701.3,1205.7 702.2,1180.0 C702.5,1169.8 702.8,1158.6 703.3,1158.6 C704.1,1158.6 706.0,1203.3 706.7,1225.3 C707.4,1246.7 707.3,1288.8 707.8,1288.8 C708.4,1288.8 709.3,1216.3 710.1,1216.3 C710.8,1216.3 711.8,1259.8 712.4,1279.7 C712.9,1297.3 712.7,1329.6 713.5,1329.6 C714.1,1329.6 714.9,1306.9 715.8,1306.9 C716.5,1306.9 717.3,1314.9 718.0,1320.5 C719.2,1329.7 719.8,1347.7 721.4,1356.8 C722.4,1362.5 723.6,1370.4 724.8,1370.4 C725.9,1370.4 727.4,1363.9 728.2,1359.1 C729.6,1351.2 729.4,1337.9 730.0,1327.3" fill="none" stroke="#f6161f" stroke-width="3.0" stroke-linejoin="round" stroke-linecap="round" opacity="1.0"/>
<ellipse cx="312.3" cy="1377.3" rx="86.9" ry="45.3" fill="none" stroke="#9eb0c6" stroke-width="2"/>
<path d="M313.3,1330.7 L314.7,1278.7 M307.4,1290.6 L314.7,1278.7 L321.4,1291.0" fill="none" stroke="#222" stroke-width="2.4" stroke-linecap="round" stroke-linejoin="round"/>
<line x1="160.8" y1="1105.7" x2="160.8" y2="1236" stroke="#aaa" stroke-width="2"/>
<line x1="160.8" y1="1235.8" x2="445.3" y2="1235.8" stroke="#888" stroke-width="2"/>
<line x1="160.1" y1="1235.8" x2="160.1" y2="1240" stroke="#888" stroke-width="1.3"/>
<line x1="184.0" y1="1235.8" x2="184.0" y2="1243" stroke="#888" stroke-width="1.3"/>
<line x1="207.9" y1="1235.8" x2="207.9" y2="1240" stroke="#888" stroke-width="1.3"/>
<line x1="231.8" y1="1235.8" x2="231.8" y2="1243" stroke="#888" stroke-width="1.3"/>
<line x1="255.7" y1="1235.8" x2="255.7" y2="1240" stroke="#888" stroke-width="1.3"/>
<line x1="279.6" y1="1235.8" x2="279.6" y2="1243" stroke="#888" stroke-width="1.3"/>
<line x1="303.5" y1="1235.8" x2="303.5" y2="1240" stroke="#888" stroke-width="1.3"/>
<line x1="327.4" y1="1235.8" x2="327.4" y2="1243" stroke="#888" stroke-width="1.3"/>
<line x1="351.29999999999995" y1="1235.8" x2="351.29999999999995" y2="1240" stroke="#888" stroke-width="1.3"/>
<line x1="375.2" y1="1235.8" x2="375.2" y2="1243" stroke="#888" stroke-width="1.3"/>
<line x1="399.1" y1="1235.8" x2="399.1" y2="1240" stroke="#888" stroke-width="1.3"/>
<line x1="423.0" y1="1235.8" x2="423.0" y2="1243" stroke="#888" stroke-width="1.3"/>
<text transform="translate(184,1257.5) scale(0.8,1)" font-family="Liberation Sans" font-size="12" font-weight="bold" fill="#6a6a6a" text-anchor="middle">3200</text>
<text transform="translate(232,1257.5) scale(0.8,1)" font-family="Liberation Sans" font-size="12" font-weight="bold" fill="#6a6a6a" text-anchor="middle">3000</text>
<text transform="translate(278.7,1257.5) scale(0.8,1)" font-family="Liberation Sans" font-size="12" font-weight="bold" fill="#6a6a6a" text-anchor="middle">2800</text>
<text transform="translate(326.7,1257.5) scale(0.8,1)" font-family="Liberation Sans" font-size="12" font-weight="bold" fill="#6a6a6a" text-anchor="middle">2600</text>
<text transform="translate(374.7,1257.5) scale(0.8,1)" font-family="Liberation Sans" font-size="12" font-weight="bold" fill="#6a6a6a" text-anchor="middle">2400</text>
<text transform="translate(421.3,1257.5) scale(0.8,1)" font-family="Liberation Sans" font-size="12" font-weight="bold" fill="#6a6a6a" text-anchor="middle">2200</text>
<path d="M160.8,1204.3 C165.4,1198.1 170.2,1191.9 174.7,1185.7 C179.2,1179.5 183.7,1172.6 188.0,1167.0 C191.7,1162.1 195.5,1159.1 198.7,1153.7 C202.8,1146.8 205.8,1133.4 209.3,1128.3 C211.1,1125.6 212.7,1123.8 214.7,1123.0 C216.3,1122.3 218.3,1123.4 220.0,1123.0 C221.8,1122.6 223.4,1121.3 225.3,1120.3 C227.7,1119.1 230.9,1116.1 233.3,1116.3 C235.3,1116.5 237.0,1118.8 238.7,1120.3 C240.5,1121.9 242.2,1125.7 244.0,1125.7 C245.8,1125.7 247.2,1121.6 249.3,1120.3 C251.6,1118.9 254.5,1117.5 257.3,1117.7 C260.7,1117.9 264.9,1120.6 268.0,1123.0 C271.1,1125.4 273.4,1128.2 276.0,1132.3 C279.8,1138.2 282.8,1150.7 286.7,1156.3 C289.2,1160.0 292.0,1164.3 294.7,1164.3 C297.4,1164.3 300.2,1159.5 302.7,1156.3 C305.6,1152.6 307.9,1143.1 310.7,1143.0 C313.3,1142.9 316.0,1150.9 318.7,1153.7 C320.9,1155.9 323.1,1159.0 325.3,1159.0 C327.5,1159.0 329.8,1155.8 332.0,1153.7 C334.7,1151.1 337.6,1144.4 340.0,1144.3 C341.9,1144.2 343.7,1146.9 345.3,1149.7 C348.5,1155.2 350.3,1169.4 353.3,1177.7 C355.8,1184.6 357.6,1190.9 361.3,1196.3 C364.8,1201.5 370.0,1206.0 374.7,1209.7 C378.9,1213.0 383.1,1215.0 388.0,1217.7 C393.6,1220.8 400.5,1225.3 406.7,1227.0 C412.1,1228.5 417.0,1227.5 422.7,1228.3 C429.3,1229.2 436.9,1231.0 444.0,1232.3" fill="none" stroke="#f37c88" stroke-width="1.9" stroke-linejoin="round" stroke-linecap="round" opacity="1.0"/>
<text x="161.3" y="1083" font-family="Liberation Serif" font-size="15" fill="#383838" text-anchor="start" >2985</text>
<path d="M196.0,1084.3 L222.7,1113.7 M219.7,1100.0 L222.7,1113.7 L209.4,1109.4" fill="none" stroke="#222" stroke-width="2.4" stroke-linecap="round" stroke-linejoin="round"/>
<text x="245.3" y="1071" font-family="Liberation Serif" font-size="15" fill="#383838" text-anchor="start" >2890</text>
<path d="M266.7,1075.0 L257.3,1113.7 M267.0,1103.6 L257.3,1113.7 L253.4,1100.3" fill="none" stroke="#222" stroke-width="2.4" stroke-linecap="round" stroke-linejoin="round"/>
<text x="285.3" y="1101.7" font-family="Liberation Serif" font-size="15" fill="#383838" text-anchor="start" >2663</text>
<path d="M304.0,1100.3 L309.3,1140.3 M314.6,1127.4 L309.3,1140.3 L300.8,1129.2" fill="none" stroke="#222" stroke-width="2.4" stroke-linecap="round" stroke-linejoin="round"/>
<text x="358.7" y="1108.3" font-family="Liberation Serif" font-size="15" fill="#383838" text-anchor="start" >2545</text>
<path d="M369.3,1108.3 L345.3,1138.2 M358.3,1133.1 L345.3,1138.2 L347.4,1124.4" fill="none" stroke="#222" stroke-width="2.4" stroke-linecap="round" stroke-linejoin="round"/>
<text x="92" y="1369.3" font-family="Liberation Serif" font-size="15" fill="#444" text-anchor="start" >3600</text>
<text x="157.3" y="1369.3" font-family="Liberation Serif" font-size="15" fill="#444" text-anchor="start" >3548</text>
<path d="M124.0,1397.3 L142.7,1428.0 M142.4,1414.0 L142.7,1428.0 L130.4,1421.3" fill="none" stroke="#222" stroke-width="2.4" stroke-linecap="round" stroke-linejoin="round"/>
<path d="M166.7,1397.3 L154.7,1429.3 M165.5,1420.4 L154.7,1429.3 L152.4,1415.5" fill="none" stroke="#222" stroke-width="2.4" stroke-linecap="round" stroke-linejoin="round"/>
<text x="467.6" y="1007.9" font-family="Liberation Serif" font-size="15" fill="#383838" text-anchor="start" >1692</text>
<path d="M500.5,1002.2 L537.9,1019.2 M530.3,1008.6 L537.9,1019.2 L525.0,1020.5" fill="none" stroke="#222" stroke-width="2.4" stroke-linecap="round" stroke-linejoin="round"/>
<text x="590" y="1125.7" font-family="Liberation Serif" font-size="15" fill="#383838" text-anchor="start" >1291</text>
<path d="M619.0,1130.3 L633.0,1156.3 M633.4,1142.3 L633.0,1156.3 L621.1,1148.9" fill="none" stroke="#222" stroke-width="2.4" stroke-linecap="round" stroke-linejoin="round"/>
<text x="551.5" y="1168.8" font-family="Liberation Serif" font-size="15" fill="#383838" text-anchor="start" >1411</text>
<path d="M585.5,1193.6 L600.2,1253.7 M604.1,1240.3 L600.2,1253.7 L590.5,1243.6" fill="none" stroke="#222" stroke-width="2.4" stroke-linecap="round" stroke-linejoin="round"/>
<text x="467.6" y="1192.6" font-family="Liberation Serif" font-size="15" fill="#383838" text-anchor="start" >1773</text>
<path d="M491.4,1219.7 L519.7,1266.1 M519.4,1252.1 L519.7,1266.1 L507.4,1259.4" fill="none" stroke="#222" stroke-width="2.4" stroke-linecap="round" stroke-linejoin="round"/>
<text x="455.1" y="1286.5" font-family="Liberation Serif" font-size="15" fill="#383838" text-anchor="start" >1837</text>
<path d="M498.9,1314.9 L513.4,1361.3 M516.5,1347.6 L513.4,1361.3 L503.1,1351.8" fill="none" stroke="#222" stroke-width="2.4" stroke-linecap="round" stroke-linejoin="round"/>
<text x="427.9" y="1328.5" font-family="Liberation Serif" font-size="15" fill="#383838" text-anchor="start" >1863</text>
<path d="M474.4,1335.3 L502.7,1381.7 M502.4,1367.7 L502.7,1381.7 L490.4,1375.0" fill="none" stroke="#222" stroke-width="2.4" stroke-linecap="round" stroke-linejoin="round"/>
<text x="526.5" y="1306.9" font-family="Liberation Serif" font-size="15" fill="#383838" text-anchor="start" >1576</text>
<path d="M558.3,1333.0 L574.1,1393.1 M577.8,1379.6 L574.1,1393.1 L564.2,1383.2" fill="none" stroke="#222" stroke-width="2.4" stroke-linecap="round" stroke-linejoin="round"/>
<text x="554.9" y="1269.5" font-family="Liberation Serif" font-size="15" fill="#383838" text-anchor="start" >1503</text>
<path d="M582.7,1305.8 L582.7,1355.7 M589.7,1343.6 L582.7,1355.7 L575.7,1343.6" fill="none" stroke="#222" stroke-width="2.4" stroke-linecap="round" stroke-linejoin="round"/>
<text x="650" y="1269.5" font-family="Liberation Serif" font-size="15" fill="#383838" text-anchor="start" >1127</text>
<path d="M668.2,1269.5 L661.4,1303.5 M670.6,1293.0 L661.4,1303.5 L656.9,1290.2" fill="none" stroke="#222" stroke-width="2.4" stroke-linecap="round" stroke-linejoin="round"/>
<text x="662.5" y="1334.1" font-family="Liberation Serif" font-size="15" fill="#383838" text-anchor="start" >1071</text>
<path d="M680.6,1338.7 L675.0,1365.9 M684.3,1355.4 L675.0,1365.9 L670.6,1352.6" fill="none" stroke="#222" stroke-width="2.4" stroke-linecap="round" stroke-linejoin="round"/>
<text x="784" y="1012.5" font-family="Liberation Serif" font-size="23" fill="#383838" text-anchor="start" >HEMA</text>
<text x="785.5" y="1052" font-family="Liberation Serif" font-size="28" fill="#383838" text-anchor="start" >(d)</text>
<line x1="762" y1="1457" x2="1480" y2="1457" stroke="#3a3a3a" stroke-width="1.8"/>
<line x1="762.9" y1="1457" x2="762.9" y2="1466.5" stroke="#3a3a3a" stroke-width="2"/>
<line x1="815.6" y1="1457" x2="815.6" y2="1463" stroke="#3a3a3a" stroke-width="2"/>
<line x1="868.3" y1="1457" x2="868.3" y2="1466.5" stroke="#3a3a3a" stroke-width="2"/>
<line x1="921.0" y1="1457" x2="921.0" y2="1463" stroke="#3a3a3a" stroke-width="2"/>
<line x1="973.7" y1="1457" x2="973.7" y2="1466.5" stroke="#3a3a3a" stroke-width="2"/>
<line x1="1026.4" y1="1457" x2="1026.4" y2="1463" stroke="#3a3a3a" stroke-width="2"/>
<line x1="1079.1" y1="1457" x2="1079.1" y2="1466.5" stroke="#3a3a3a" stroke-width="2"/>
<line x1="1131.8" y1="1457" x2="1131.8" y2="1463" stroke="#3a3a3a" stroke-width="2"/>
<line x1="1184.5" y1="1457" x2="1184.5" y2="1466.5" stroke="#3a3a3a" stroke-width="2"/>
<line x1="1237.2" y1="1457" x2="1237.2" y2="1463" stroke="#3a3a3a" stroke-width="2"/>
<line x1="1289.9" y1="1457" x2="1289.9" y2="1466.5" stroke="#3a3a3a" stroke-width="2"/>
<line x1="1342.6" y1="1457" x2="1342.6" y2="1463" stroke="#3a3a3a" stroke-width="2"/>
<line x1="1395.3000000000002" y1="1457" x2="1395.3000000000002" y2="1466.5" stroke="#3a3a3a" stroke-width="2"/>
<line x1="1448.0" y1="1457" x2="1448.0" y2="1463" stroke="#3a3a3a" stroke-width="2"/>
<text x="762.4" y="1488.7" font-family="Liberation Sans" font-size="22.5" fill="#3a3a3a" text-anchor="middle" stroke="#3a3a3a" stroke-width="0.35">4000</text>
<text x="867.8" y="1488.7" font-family="Liberation Sans" font-size="22.5" fill="#3a3a3a" text-anchor="middle" stroke="#3a3a3a" stroke-width="0.35">3500</text>
<text x="973.2" y="1488.7" font-family="Liberation Sans" font-size="22.5" fill="#3a3a3a" text-anchor="middle" stroke="#3a3a3a" stroke-width="0.35">3000</text>
<text x="1078.6" y="1488.7" font-family="Liberation Sans" font-size="22.5" fill="#3a3a3a" text-anchor="middle" stroke="#3a3a3a" stroke-width="0.35">2500</text>
<text x="1184.0" y="1488.7" font-family="Liberation Sans" font-size="22.5" fill="#3a3a3a" text-anchor="middle" stroke="#3a3a3a" stroke-width="0.35">2000</text>
<text x="1289.4" y="1488.7" font-family="Liberation Sans" font-size="22.5" fill="#3a3a3a" text-anchor="middle" stroke="#3a3a3a" stroke-width="0.35">1500</text>
<text x="1394.8000000000002" y="1488.7" font-family="Liberation Sans" font-size="22.5" fill="#3a3a3a" text-anchor="middle" stroke="#3a3a3a" stroke-width="0.35">1000</text>
<path d="M762.9,1396.8 C771.7,1397.3 779.7,1398.1 789.3,1398.3 C800.9,1398.5 819.3,1396.2 827.5,1397.4 C831.5,1398.0 833.3,1400.2 836.3,1400.3 C839.2,1400.4 842.4,1399.9 845.1,1398.3 C848.4,1396.3 850.7,1391.6 853.9,1388.0 C857.5,1383.9 861.9,1377.4 865.6,1374.8 C868.1,1373.0 870.6,1373.1 872.9,1371.9 C875.0,1370.8 876.7,1368.2 878.8,1368.1 C881.1,1368.0 883.2,1370.3 886.1,1371.9 C890.7,1374.4 898.2,1378.6 903.7,1382.1 C908.9,1385.4 913.8,1389.1 918.4,1392.4 C922.5,1395.4 926.0,1399.2 930.1,1401.2 C933.9,1403.0 937.4,1403.6 941.9,1404.1 C947.8,1404.8 957.1,1405.4 962.4,1404.1 C966.1,1403.2 968.9,1402.1 971.2,1399.7 C974.0,1396.7 975.1,1390.5 977.1,1386.5 C978.8,1383.0 980.6,1376.9 982.4,1376.9 C984.0,1376.9 985.5,1382.4 987.3,1385.1 C989.1,1387.9 991.2,1392.8 993.2,1393.3 C994.5,1393.6 995.7,1391.1 997.0,1391.5 C999.1,1392.1 1000.8,1398.7 1003.5,1401.2 C1006.0,1403.5 1009.1,1405.0 1012.3,1406.2 C1015.8,1407.5 1019.2,1407.9 1024.0,1408.5 C1031.5,1409.4 1043.1,1409.4 1053.3,1410.0 C1064.5,1410.6 1078.8,1411.2 1088.5,1412.1 C1095.4,1412.8 1099.2,1413.8 1106.1,1414.4 C1115.8,1415.2 1131.4,1415.7 1141.3,1415.9 C1148.5,1416.0 1153.5,1416.0 1160.0,1415.8 C1167.0,1415.6 1174.7,1415.1 1182.0,1414.7 C1189.3,1414.3 1197.6,1413.1 1204.0,1413.2 C1209.0,1413.3 1213.3,1415.0 1217.2,1414.7 C1220.5,1414.5 1223.4,1414.3 1226.0,1412.5 C1229.4,1410.2 1232.7,1405.5 1234.8,1400.4 C1237.7,1393.5 1238.1,1386.2 1239.2,1374.0 C1241.6,1346.6 1239.8,1275.8 1240.3,1240.0 C1240.6,1216.0 1240.8,1198.6 1241.4,1180.0 C1241.9,1163.7 1242.8,1134.3 1243.6,1134.3 C1244.4,1134.3 1245.3,1160.9 1246.0,1180.0 C1247.2,1211.9 1248.1,1272.3 1249.1,1308.0 C1249.8,1333.6 1250.2,1354.8 1251.3,1374.0 C1252.2,1388.9 1251.9,1407.8 1254.6,1413.6 C1255.5,1415.6 1257.0,1417.2 1257.9,1416.9 C1260.6,1415.9 1259.4,1385.9 1260.1,1374.0 C1260.6,1365.5 1261.2,1352.0 1261.7,1352.0 C1262.3,1352.0 1262.6,1374.0 1263.4,1385.0 C1264.2,1396.0 1262.9,1412.9 1266.7,1418.0 C1268.6,1420.6 1271.6,1421.1 1274.4,1421.3 C1277.7,1421.5 1282.5,1420.1 1285.4,1418.0 C1288.3,1416.0 1290.3,1413.2 1292.0,1409.2 C1294.7,1403.0 1295.2,1392.4 1296.4,1382.8 C1297.8,1371.4 1298.0,1345.6 1299.7,1345.4 C1300.6,1345.3 1302.1,1352.1 1303.0,1356.4 C1304.2,1362.2 1304.8,1377.3 1305.7,1377.3 C1306.6,1377.3 1307.1,1358.8 1308.5,1358.6 C1309.4,1358.5 1310.8,1365.3 1311.8,1365.2 C1313.0,1365.1 1314.1,1356.3 1315.1,1356.4 C1316.3,1356.5 1317.3,1365.0 1318.4,1369.6 C1319.5,1374.5 1320.8,1385.1 1321.7,1385.0 C1323.2,1384.9 1323.8,1357.2 1324.5,1340.0 C1325.5,1317.2 1325.8,1278.3 1326.5,1260.0 C1326.9,1250.4 1327.2,1238.0 1327.6,1238.0 C1328.2,1238.0 1328.6,1292.0 1329.3,1292.0 C1329.7,1292.0 1330.3,1279.0 1330.8,1270.0 C1331.5,1255.7 1332.2,1214.6 1332.7,1214.6 C1333.2,1214.6 1333.3,1246.3 1333.8,1264.0 C1334.4,1284.4 1335.1,1308.2 1336.0,1330.0 C1336.9,1351.5 1336.5,1393.4 1339.3,1393.8 C1340.7,1394.0 1343.3,1384.8 1344.8,1378.4 C1347.1,1368.8 1347.9,1355.7 1349.2,1341.0 C1351.0,1319.9 1352.5,1288.5 1353.6,1264.0 C1354.6,1241.7 1355.0,1226.6 1355.8,1200.0 C1357.1,1156.1 1358.8,1025.4 1360.2,1025.4 C1361.4,1025.4 1362.8,1106.0 1363.5,1150.0 C1364.3,1199.5 1363.6,1263.0 1364.6,1308.0 C1365.3,1341.6 1363.0,1391.2 1367.9,1396.0 C1368.9,1396.9 1370.2,1396.9 1371.2,1396.0 C1376.2,1391.2 1374.1,1332.5 1375.6,1308.0 C1376.7,1290.5 1377.8,1262.9 1378.9,1262.9 C1379.7,1262.9 1380.4,1276.4 1381.1,1286.0 C1382.3,1302.0 1382.7,1349.6 1384.4,1349.8 C1385.0,1349.9 1386.0,1344.9 1386.6,1341.0 C1387.8,1333.5 1387.2,1308.3 1388.8,1308.0 C1389.4,1307.9 1390.4,1310.0 1391.0,1312.4 C1393.3,1321.0 1392.8,1355.7 1394.3,1374.0 C1395.5,1388.7 1396.5,1413.2 1398.7,1413.6 C1399.7,1413.8 1401.1,1410.6 1402.0,1407.0 C1405.0,1395.5 1403.9,1346.6 1405.3,1330.0 C1406.0,1322.0 1406.9,1312.4 1407.5,1312.4 C1408.5,1312.4 1409.0,1337.1 1409.7,1352.0 C1410.6,1371.2 1410.9,1418.0 1411.9,1418.0 C1412.8,1418.0 1414.2,1369.6 1415.2,1369.6 C1416.0,1369.6 1416.6,1387.8 1417.4,1396.0 C1418.1,1403.1 1418.0,1415.4 1419.6,1415.8 C1420.5,1416.0 1421.7,1411.3 1422.9,1411.4 C1424.9,1411.6 1427.8,1426.0 1429.5,1425.7 C1433.1,1425.0 1432.8,1356.4 1433.9,1356.4 C1434.9,1356.4 1435.0,1391.7 1436.1,1407.0 C1437.0,1419.8 1436.2,1437.6 1439.4,1442.2 C1440.6,1443.9 1442.2,1444.5 1443.8,1444.4 C1445.8,1444.3 1448.3,1442.3 1450.4,1440.0 C1453.5,1436.6 1456.7,1429.3 1459.2,1424.6 C1461.3,1420.7 1463.3,1418.8 1464.7,1413.6 C1467.6,1403.0 1466.3,1363.2 1468.0,1363.0 C1468.6,1362.9 1469.6,1366.4 1470.2,1369.6 C1471.7,1377.5 1470.7,1411.2 1472.4,1411.4 C1473.5,1411.5 1475.7,1401.6 1476.8,1396.0 C1478.1,1389.4 1478.3,1381.3 1479.0,1374.0" fill="none" stroke="#f6161f" stroke-width="3.0" stroke-linejoin="round" stroke-linecap="round" opacity="1.0"/>
<text x="839.2" y="1329.3" font-family="Liberation Serif" font-size="15" fill="#383838" text-anchor="start" >3424</text>
<path d="M858.3,1333.7 L872.9,1361.6 M873.5,1347.6 L872.9,1361.6 L861.1,1354.1" fill="none" stroke="#222" stroke-width="2.4" stroke-linecap="round" stroke-linejoin="round"/>
<text x="946.3" y="1341.1" font-family="Liberation Serif" font-size="15" fill="#383838" text-anchor="start" >2958</text>
<path d="M965.3,1344.0 L977.7,1371.9 M979.2,1358.0 L977.7,1371.9 L966.4,1363.7" fill="none" stroke="#222" stroke-width="2.4" stroke-linecap="round" stroke-linejoin="round"/>
<text x="1024" y="1349.9" font-family="Liberation Serif" font-size="15" fill="#383838" text-anchor="start" >2931</text>
<path d="M1023.4,1358.7 L1009.3,1380.7 M1021.7,1374.3 L1009.3,1380.7 L1009.9,1366.7" fill="none" stroke="#222" stroke-width="2.4" stroke-linecap="round" stroke-linejoin="round"/>
<text x="1207.3" y="1100.2" font-family="Liberation Serif" font-size="15" fill="#383838" text-anchor="start" >1718</text>
<path d="M1230.4,1104.6 L1241.0,1131.0 M1243.0,1117.1 L1241.0,1131.0 L1230.0,1122.4" fill="none" stroke="#222" stroke-width="2.4" stroke-linecap="round" stroke-linejoin="round"/>
<text x="1407.5" y="1041.9" font-family="Liberation Serif" font-size="15" fill="#383838" text-anchor="start" >1163</text>
<path d="M1408.6,1034.2 L1365.7,1033.1 M1377.6,1040.4 L1365.7,1033.1 L1378.0,1026.4" fill="none" stroke="#222" stroke-width="2.4" stroke-linecap="round" stroke-linejoin="round"/>
<text x="1316.2" y="1165.1" font-family="Liberation Serif" font-size="15" fill="#383838" text-anchor="start" >1295</text>
<path d="M1332.7,1170.6 L1328.3,1202.5 M1336.9,1191.4 L1328.3,1202.5 L1323.0,1189.5" fill="none" stroke="#222" stroke-width="2.4" stroke-linecap="round" stroke-linejoin="round"/>
<text x="1380" y="1215.7" font-family="Liberation Serif" font-size="15" fill="#383838" text-anchor="start" >1079</text>
<path d="M1386.6,1222.3 L1382.2,1255.2 M1390.7,1244.1 L1382.2,1255.2 L1376.9,1242.3" fill="none" stroke="#222" stroke-width="2.4" stroke-linecap="round" stroke-linejoin="round"/>
<text x="1405.3" y="1266.2" font-family="Liberation Serif" font-size="15" fill="#383838" text-anchor="start" >1025</text>
<path d="M1409.7,1269.5 L1393.2,1300.3 M1405.1,1292.9 L1393.2,1300.3 L1392.8,1286.3" fill="none" stroke="#222" stroke-width="2.4" stroke-linecap="round" stroke-linejoin="round"/>
<text x="1180.9" y="1349.8" font-family="Liberation Serif" font-size="15" fill="#383838" text-anchor="start" >1636</text>
<path d="M1222.7,1339.9 L1260.1,1344.3 M1248.9,1335.9 L1260.1,1344.3 L1247.2,1349.8" fill="none" stroke="#222" stroke-width="2.4" stroke-linecap="round" stroke-linejoin="round"/>
<text x="1226" y="1324.5" font-family="Liberation Serif" font-size="15" fill="#383838" text-anchor="start" >1451</text>
<text x="1260.1" y="1308" font-family="Liberation Serif" font-size="15" fill="#383838" text-anchor="start" >1409</text>
<path d="M1266.7,1316.8 L1292.0,1336.6 M1286.8,1323.6 L1292.0,1336.6 L1278.1,1334.6" fill="none" stroke="#222" stroke-width="2.4" stroke-linecap="round" stroke-linejoin="round"/>
<text x="1292" y="1321.2" font-family="Liberation Serif" font-size="15" fill="#383838" text-anchor="start" >1367</text>
<path d="M1290.9,1310.2 L1307.4,1354.2 M1309.7,1340.4 L1307.4,1354.2 L1296.6,1345.3" fill="none" stroke="#222" stroke-width="2.4" stroke-linecap="round" stroke-linejoin="round"/>
<path d="M1316.2,1323.4 L1316.2,1354.2 M1323.2,1342.1 L1316.2,1354.2 L1309.2,1342.1" fill="none" stroke="#222" stroke-width="2.4" stroke-linecap="round" stroke-linejoin="round"/>
<text x="588" y="1550" font-family="Liberation Serif" font-size="35.4" fill="#333" text-anchor="start" >Wavelenght (cm<tspan dy="-12" font-size="20">−1</tspan><tspan dy="12"> )</tspan></text>
<text transform="translate(45.7,869.6) rotate(-90)" font-family="Liberation Serif" font-size="35.4" fill="#333">Absorbance (a.u.)</text>
</svg></body></html>
